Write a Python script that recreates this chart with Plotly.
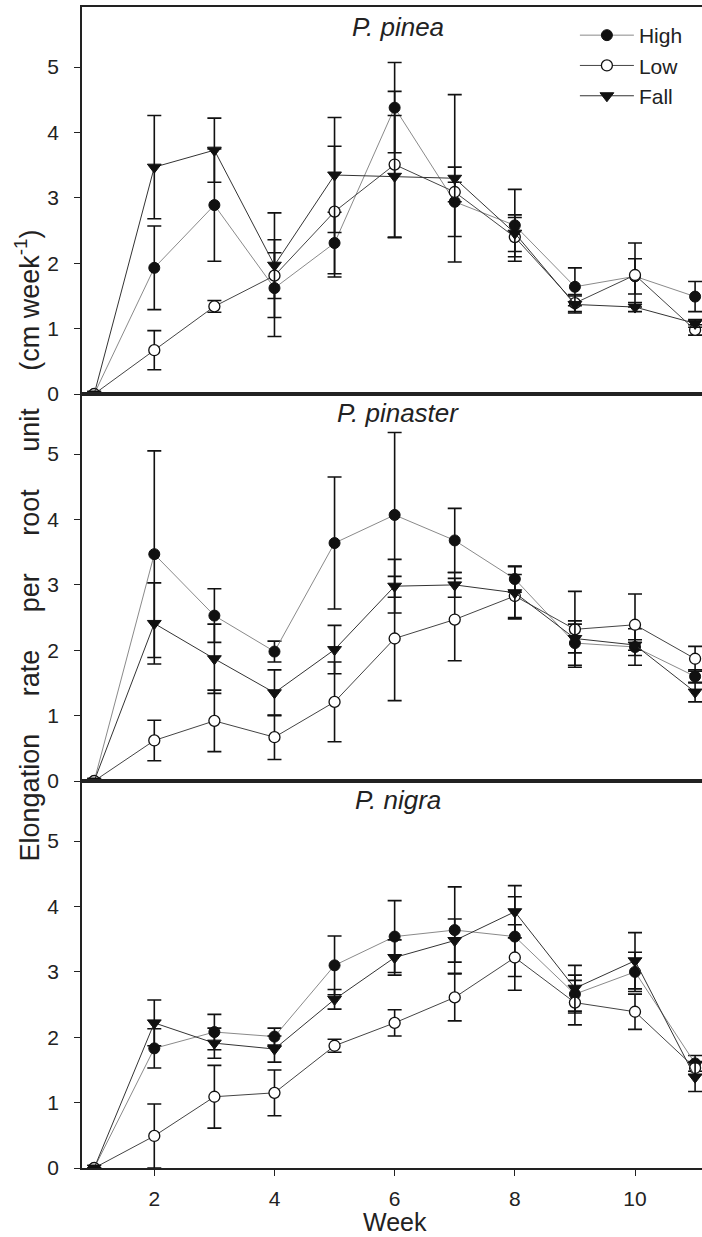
import plotly.graph_objects as go
from plotly.subplots import make_subplots

weeks = [1, 2, 3, 4, 5, 6, 7, 8, 9, 10, 11]
panel_titles = ["P. pinea", "P. pinaster", "P. nigra"]
series_names = ["High", "Low", "Fall"]

# P. pinea
pinea_high = [0, 1.93, 2.89, 1.62, 2.31, 4.38, 2.94, 2.58, 1.64, 1.80, 1.49]
pinea_high_err = [0, 0.64, 0.86, 0.74, 0.47, 0.69, 0.53, 0.55, 0.29, 0.27, 0.23]
pinea_low = [0, 0.67, 1.34, 1.81, 2.79, 3.51, 3.09, 2.40, 1.39, 1.82, 0.98]
pinea_low_err = [0, 0.30, 0.09, 0.35, 1.00, 1.12, 0.15, 0.30, 0.13, 0.49, 0.08]
pinea_fall = [0, 3.47, 3.73, 1.97, 3.35, 3.33, 3.30, 2.46, 1.37, 1.33, 1.08]
pinea_fall_err = [0, 0.79, 0.49, 0.80, 0.88, 0.93, 1.28, 0.28, 0.13, 0.07, 0.06]

# P. pinaster
pinaster_high = [0, 3.47, 2.53, 1.98, 3.64, 4.07, 3.68, 3.09, 2.11, 2.05, 1.60]
pinaster_high_err = [0, 1.58, 0.41, 0.16, 1.01, 1.26, 0.49, 0.20, 0.34, 0.28, 0.10]
pinaster_low = [0, 0.62, 0.92, 0.67, 1.21, 2.18, 2.47, 2.83, 2.32, 2.39, 1.87]
pinaster_low_err = [0, 0.31, 0.47, 0.34, 0.61, 0.95, 0.63, 0.33, 0.58, 0.47, 0.19]
pinaster_fall = [0, 2.41, 1.87, 1.35, 2.01, 2.98, 3.00, 2.88, 2.18, 2.08, 1.36]
pinaster_fall_err = [0, 0.62, 0.53, 0.35, 0.37, 0.41, 0.19, 0.40, 0.22, 0.08, 0.15]

# P. nigra
nigra_high = [0, 1.83, 2.08, 2.01, 3.10, 3.54, 3.64, 3.54, 2.66, 3.00, 1.60]
nigra_high_err = [0, 0.30, 0.27, 0.13, 0.45, 0.55, 0.66, 0.61, 0.29, 0.30, 0.12]
nigra_low = [0, 0.49, 1.09, 1.15, 1.87, 2.22, 2.61, 3.22, 2.53, 2.39, 1.53]
nigra_low_err = [0, 0.49, 0.48, 0.35, 0.10, 0.20, 0.36, 0.50, 0.34, 0.27, 0.10]
nigra_fall = [0, 2.22, 1.91, 1.82, 2.58, 3.22, 3.48, 3.92, 2.75, 3.17, 1.39]
nigra_fall_err = [0, 0.35, 0.23, 0.20, 0.15, 0.27, 0.33, 0.40, 0.35, 0.43, 0.22]

y_ticks = [0, 1, 2, 3, 4, 5]
x_ticks = [2, 4, 6, 8, 10]

panels = [
    [(pinea_high, pinea_high_err), (pinea_low, pinea_low_err), (pinea_fall, pinea_fall_err)],
    [(pinaster_high, pinaster_high_err), (pinaster_low, pinaster_low_err), (pinaster_fall, pinaster_fall_err)],
    [(nigra_high, nigra_high_err), (nigra_low, nigra_low_err), (nigra_fall, nigra_fall_err)],
]

styles = {
    "High": dict(symbol="circle", color="#111111", line=dict(color="#111111", width=1), size=11),
    "Low": dict(symbol="circle", color="white", line=dict(color="#111111", width=1.3), size=11),
    "Fall": dict(symbol="triangle-down", color="#111111", line=dict(color="#111111", width=1), size=12),
}
line_colors = {"High": "#8a8a8a", "Low": "#444444", "Fall": "#333333"}
FONT = "Arial, Liberation Sans"
TXT = "#222222"

fig = make_subplots(rows=3, cols=1, shared_xaxes=True, vertical_spacing=0)

for r, panel in enumerate(panels, start=1):
    for name, (vals, errs) in zip(series_names, panel):
        fig.add_trace(
            go.Scatter(
                x=weeks, y=vals, name=name, mode="lines+markers",
                line=dict(color=line_colors[name], width=1),
                marker=styles[name],
                error_y=dict(type="data", array=errs, visible=True, color="#111111",
                             thickness=1.6, width=7),
                showlegend=(r == 1),
                legendgroup=name,
            ),
            row=r, col=1,
        )

axis_line = dict(showline=True, linecolor="#222222", linewidth=1.5, showgrid=False, zeroline=False)

for r in range(1, 4):
    fig.update_yaxes(
        range=[0, 5.92], tickvals=y_ticks, ticks="outside", ticklen=6, tickwidth=1.3,
        tickcolor="#222222", tickfont=dict(family=FONT, size=21, color=TXT),
        ticklabelstandoff=11,
        mirror=False, row=r, col=1, **axis_line,
    )
    fig.update_xaxes(
        range=[0.797, 11.115], mirror=True, row=r, col=1,
        tickvals=x_ticks, ticks=("outside" if r == 3 else ""), ticklen=6, tickwidth=1.3,
        tickcolor="#222222", showticklabels=(r == 3),
        tickfont=dict(family=FONT, size=21, color=TXT),
        ticklabelstandoff=5,
        **axis_line,
    )

plot_top, plot_bottom, H = 7, 1168, 1237
ph = plot_bottom - plot_top


def py(px):
    return (plot_bottom - px) / ph


annotations = []
for title, cy in zip(panel_titles, [27, 413, 800]):
    annotations.append(dict(
        text=f"<i>{title}</i>", xref="paper", yref="paper", x=0.51, y=py(cy),
        xanchor="center", yanchor="middle", showarrow=False,
        font=dict(family=FONT, size=26, color=TXT),
    ))

gap = "\u00a0" * 5
ytitle = f"Elongation{gap}rate{gap}per{gap}root{gap}unit{gap}(cm week<sup>-1</sup>)"
annotations.append(dict(
    text=ytitle, xref="paper", yref="paper", x=-0.088, y=py(545),
    xanchor="center", yanchor="middle", textangle=-90, showarrow=False,
    font=dict(family=FONT, size=27, color=TXT),
))
annotations.append(dict(
    text="Week", xref="paper", yref="paper", x=0.505, y=py(1222),
    xanchor="center", yanchor="middle", showarrow=False,
    font=dict(family=FONT, size=25, color=TXT),
))

fig.update_layout(
    width=702, height=1237,
    margin=dict(l=82, r=0, t=plot_top, b=H - plot_bottom, pad=0),
    paper_bgcolor="white", plot_bgcolor="white",
    annotations=annotations,
    legend=dict(
        x=0.795, y=py(15), xanchor="left", yanchor="top",
        font=dict(family=FONT, size=21, color=TXT),
        bgcolor="rgba(0,0,0,0)", tracegroupgap=0, itemwidth=54,
    ),
    font=dict(family=FONT, color=TXT),
)

fig.write_html("out.html")
